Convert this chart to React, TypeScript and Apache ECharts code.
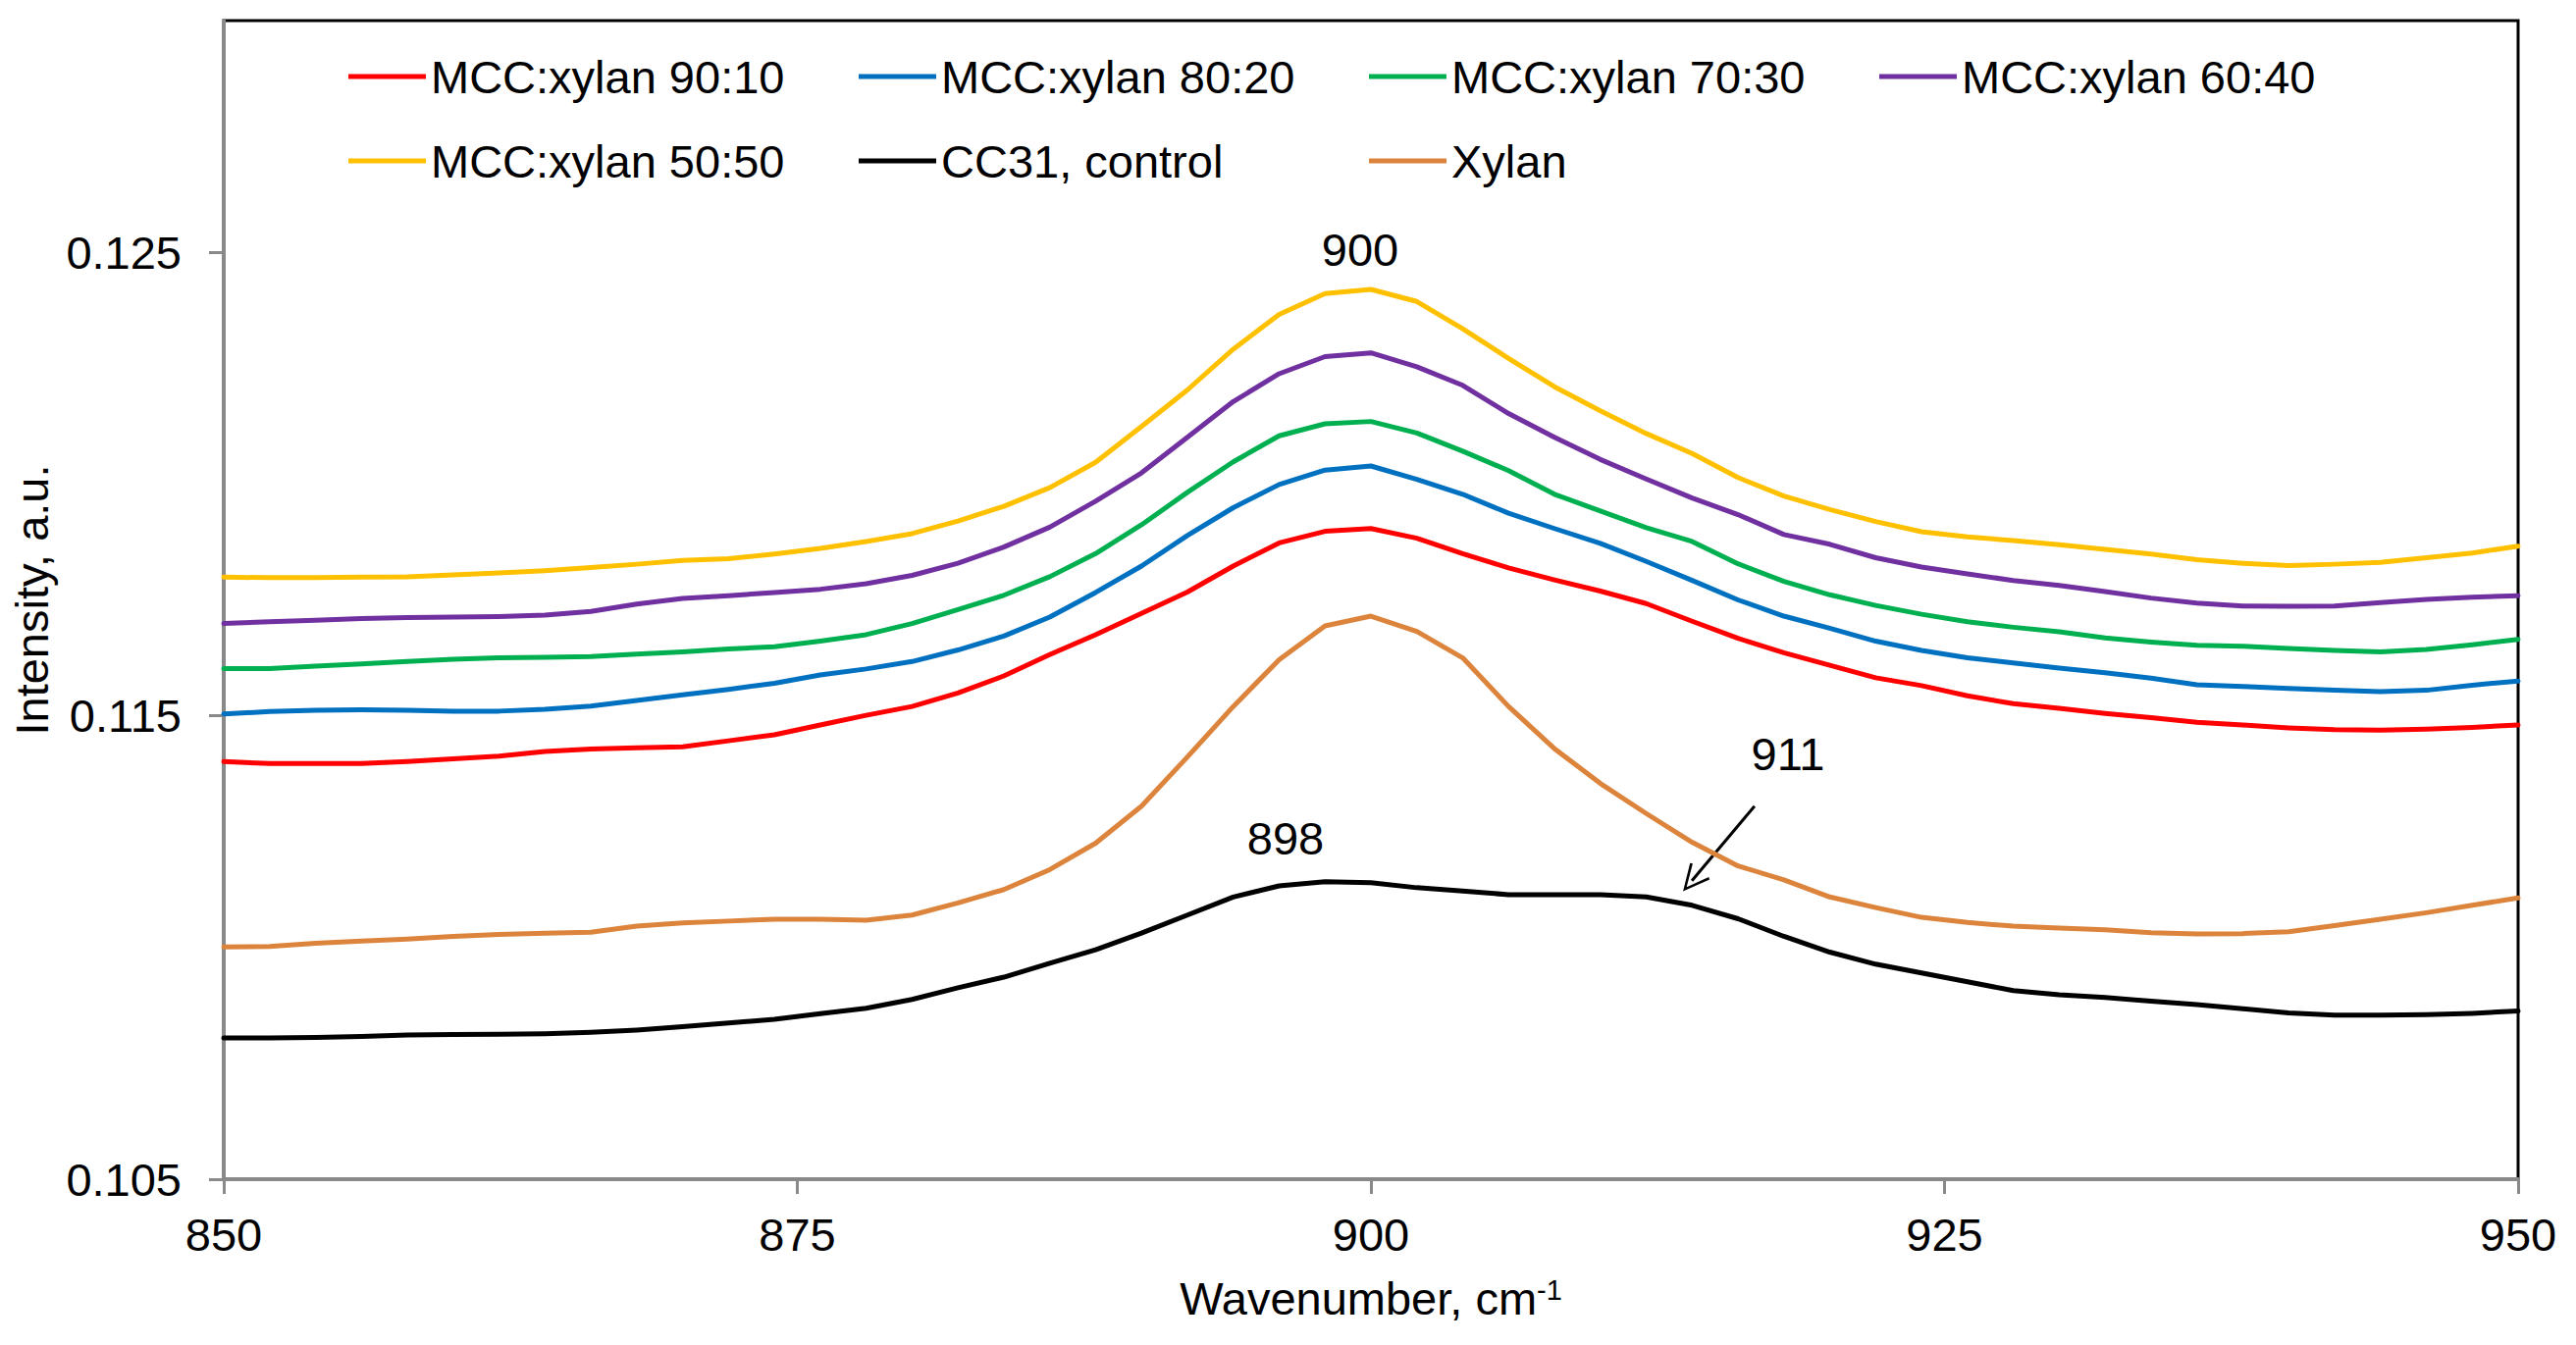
import React, { useEffect, useRef } from "react";
import * as echarts from "echarts";

const wavenumbers = [
  850, 852, 854, 856, 858, 860, 862, 864, 866, 868, 870, 872, 874, 876, 878, 880, 882, 884, 886, 888,
  890, 892, 894, 896, 898, 900, 902, 904, 906, 908, 910, 912, 914, 916, 918, 920, 922, 924, 926, 928,
  930, 932, 934, 936, 938, 940, 942, 944, 946, 948, 950,
];

const mcc9010 = [
  0.11401, 0.11397, 0.11397, 0.11397, 0.11401, 0.11407, 0.11413, 0.11423, 0.11428, 0.11431, 0.11433,
  0.11446, 0.11459, 0.1148, 0.11501, 0.1152, 0.11549, 0.11586, 0.11632, 0.11675, 0.11721, 0.11767,
  0.11823, 0.11873, 0.11898, 0.11904, 0.11883, 0.1185, 0.11819, 0.11793, 0.11769, 0.11742, 0.11704,
  0.11667, 0.11636, 0.11609, 0.11582, 0.11565, 0.11543, 0.11526, 0.11516, 0.11505, 0.11496, 0.11486,
  0.1148, 0.11474, 0.1147, 0.11469, 0.11471, 0.11475, 0.1148,
];

const mcc8020 = [
  0.11504, 0.11509, 0.11512, 0.11513, 0.11512, 0.1151, 0.1151, 0.11514, 0.11521, 0.11533, 0.11545,
  0.11557, 0.1157, 0.11588, 0.11601, 0.11617, 0.11642, 0.11672, 0.11713, 0.11766, 0.11823, 0.11889,
  0.11949, 0.11999, 0.1203, 0.12039, 0.1201, 0.11978, 0.11937, 0.11904, 0.11872, 0.11833, 0.11792,
  0.1175, 0.11715, 0.11689, 0.11661, 0.11641, 0.11625, 0.11614, 0.11603, 0.11593, 0.11581, 0.11567,
  0.11563, 0.11559, 0.11555, 0.11552, 0.11555, 0.11566, 0.11575,
];

const mcc7030 = [
  0.11602, 0.11602, 0.11607, 0.11612, 0.11617, 0.11622, 0.11625, 0.11626, 0.11628, 0.11633, 0.11638,
  0.11644, 0.11649, 0.11661, 0.11675, 0.11699, 0.11729, 0.1176, 0.118, 0.1185, 0.11912, 0.11982,
  0.12048, 0.12104, 0.1213, 0.12135, 0.1211, 0.12071, 0.12029, 0.11978, 0.11942, 0.11906, 0.11876,
  0.11828, 0.1179, 0.11761, 0.11738, 0.11719, 0.11703, 0.11691, 0.11681, 0.11668, 0.11659, 0.11652,
  0.1165, 0.11645, 0.11641, 0.11638, 0.11643, 0.11653, 0.11665,
];

const mcc6040 = [
  0.11699, 0.11703, 0.11706, 0.1171, 0.11712, 0.11713, 0.11714, 0.11717, 0.11725, 0.11741, 0.11753,
  0.11759, 0.11766, 0.11773, 0.11785, 0.11803, 0.11829, 0.11864, 0.11907, 0.11963, 0.12024, 0.12101,
  0.12178, 0.12238, 0.12275, 0.12283, 0.12253, 0.12213, 0.12152, 0.12101, 0.12053, 0.12011, 0.1197,
  0.11934, 0.11891, 0.1187, 0.11841, 0.11821, 0.11806, 0.11792, 0.11781, 0.11768, 0.11754, 0.11743,
  0.11737, 0.11736, 0.11737, 0.11744, 0.11751, 0.11756, 0.11759,
];

const mcc5050 = [
  0.11799, 0.11798, 0.11798, 0.11799, 0.118, 0.11804, 0.11808, 0.11813, 0.1182, 0.11827, 0.11835,
  0.11839, 0.11849, 0.11861, 0.11876, 0.11893, 0.1192, 0.11952, 0.11992, 0.12047, 0.12124, 0.12203,
  0.12291, 0.12366, 0.12411, 0.1242, 0.12394, 0.12335, 0.12271, 0.1221, 0.12158, 0.12109, 0.12066,
  0.12014, 0.11974, 0.11945, 0.11919, 0.11897, 0.11886, 0.11878, 0.11869, 0.11859, 0.11849, 0.11837,
  0.11829, 0.11824, 0.11827, 0.11831, 0.11841, 0.11851, 0.11866,
];

const cc31Control = [
  0.10805, 0.10805, 0.10806, 0.10808, 0.10811, 0.10812, 0.10813, 0.10814, 0.10817, 0.10822, 0.10829,
  0.10837, 0.10845, 0.10857, 0.10869, 0.10888, 0.10913, 0.10936, 0.10966, 0.10995, 0.11031, 0.1107,
  0.11109, 0.11133, 0.11142, 0.1114, 0.11129, 0.11122, 0.11114, 0.11114, 0.11114, 0.11109, 0.11091,
  0.11062, 0.11024, 0.1099, 0.10964, 0.10945, 0.10926, 0.10907, 0.10898, 0.10892, 0.10884, 0.10877,
  0.10868, 0.10859, 0.10854, 0.10854, 0.10855, 0.10858, 0.10863,
];

const xylan = [
  0.11001, 0.11002, 0.11009, 0.11014, 0.11018, 0.11024, 0.11028, 0.11031, 0.11033, 0.11046, 0.11053,
  0.11057, 0.11061, 0.11061, 0.11059, 0.1107, 0.11096, 0.11125, 0.11168, 0.11225, 0.11305, 0.11411,
  0.1152, 0.11621, 0.11694, 0.11715, 0.11682, 0.11625, 0.1152, 0.11429, 0.11354, 0.11289, 0.11227,
  0.11176, 0.11146, 0.11109, 0.11086, 0.11065, 0.11054, 0.11046, 0.11042, 0.11038, 0.11032, 0.11029,
  0.1103, 0.11034, 0.11047, 0.11061, 0.11075, 0.11091, 0.11107,
];

const seriesNames = [
  "MCC:xylan 90:10",
  "MCC:xylan 80:20",
  "MCC:xylan 70:30",
  "MCC:xylan 60:40",
  "MCC:xylan 50:50",
  "CC31, control",
  "Xylan",
];
const seriesValues = [mcc9010, mcc8020, mcc7030, mcc6040, mcc5050, cc31Control, xylan];
const seriesColors = ["#FF0000", "#0070C0", "#00B050", "#7030A0", "#FFC000", "#000000", "#DC843C"];

const yTickValues = [0.105, 0.115, 0.125];
const xTickInterval = 25;

// peak annotations: [wavenumber, intensity, text]
const annotations: [number, number, string][] = [
  [899.53, 0.12506, "900"],
  [896.28, 0.11235, "898"],
  [918.18, 0.11417, "911"],
];
// arrow from (x, y) to (x, y) in data units
const arrowFrom = [916.72, 0.11305];
const arrowTo = [913.99, 0.11144];

const FONT = "'Liberation Sans', Arial, Helvetica, sans-serif";

export default function App() {
  const ref = useRef<HTMLDivElement>(null);

  useEffect(() => {
    document.body.style.margin = "0";
    const chart = echarts.init(ref.current!, null, { renderer: "svg" });

    const lineSeries = seriesNames.map((name, i) => ({
      name,
      type: "line",
      data: wavenumbers.map((x, j) => [x, seriesValues[i][j]]),
      symbol: "none",
      showSymbol: false,
      smooth: false,
      lineStyle: { color: seriesColors[i], width: 5, cap: "round", join: "round" },
      itemStyle: { color: seriesColors[i] },
      z: 2 + i,
      silent: true,
    }));

    const option: any = {
      animation: false,
      backgroundColor: "#ffffff",
      textStyle: { fontFamily: FONT, color: "#000" },
      grid: {
        left: 228,
        right: 59,
        top: 21,
        bottom: 169,
        show: true,
        borderColor: "#000000",
        borderWidth: 3,
        backgroundColor: "transparent",
        containLabel: false,
      },
      legend: {
        data: seriesNames,
        left: 355,
        top: 48,
        width: 2100,
        padding: 0,
        itemWidth: 79,
        itemHeight: 14,
        itemGap: 26,
        icon: "path://M0,0 L79,0 L79,5 L0,5 Z",
        textStyle: {
          fontFamily: FONT,
          fontSize: 47,
          color: "#000",
          width: 410,
          lineHeight: 60,
        },
        selectedMode: false,
      },
      xAxis: {
        type: "value",
        min: 850,
        max: 950,
        interval: xTickInterval,
        name: "Wavenumber, cm{sup|-1}",
        nameLocation: "middle",
        nameGap: 98,
        nameTextStyle: {
          fontFamily: FONT,
          fontSize: 47,
          color: "#000",
          rich: {
            sup: { fontFamily: FONT, fontSize: 29, color: "#000", verticalAlign: "top", padding: [0, 0, 18, 0] },
          },
        },
        axisLine: { show: true, onZero: false, lineStyle: { color: "#898989", width: 4 } },
        axisTick: { show: true, inside: false, length: 15, lineStyle: { color: "#898989", width: 3 } },
        axisLabel: { show: true, margin: 33, fontFamily: FONT, fontSize: 47, color: "#000" },
        splitLine: { show: false },
      },
      yAxis: {
        type: "value",
        min: 0.105,
        max: 0.13,
        name: "Intensity, a.u.",
        nameLocation: "middle",
        nameGap: 168,
        nameTextStyle: { fontFamily: FONT, fontSize: 47, color: "#000" },
        axisLine: { show: true, onZero: false, lineStyle: { color: "#898989", width: 4 } },
        axisTick: {
          show: true,
          inside: false,
          length: 15,
          customValues: yTickValues,
          lineStyle: { color: "#898989", width: 3 },
        },
        axisLabel: {
          show: true,
          margin: 43,
          customValues: yTickValues,
          fontFamily: FONT,
          fontSize: 47,
          color: "#000",
          formatter: (v: number) => v.toFixed(3),
        },
        splitLine: { show: false },
      },
      series: [
        ...lineSeries,
        {
          name: "annotations",
          type: "scatter",
          data: annotations.map((a) => [a[0], a[1], a[2]]),
          symbolSize: 1,
          itemStyle: { color: "rgba(0,0,0,0)", opacity: 1 },
          silent: true,
          z: 20,
          label: {
            show: true,
            position: "inside",
            formatter: (p: any) => p.value[2],
            fontFamily: FONT,
            fontSize: 47,
            color: "#000000",
            opacity: 1,
            textBorderWidth: 0,
          },
        },
        {
          name: "arrow",
          type: "line",
          data: [],
          silent: true,
          markLine: {
            silent: true,
            animation: false,
            symbol: ["none", "path://M0,0 L10,19 L8.2,20 L0,4 L-8.2,20 L-10,19 Z"],
            symbolSize: [26, 28],
            label: { show: false },
            lineStyle: { color: "#000", width: 3, type: "solid" },
            data: [[{ coord: arrowFrom }, { coord: arrowTo }]],
          },
        },
      ],
    };

    chart.setOption(option);
    return () => {
      chart.dispose();
    };
  }, []);

  return (
    <div
      ref={ref}
      style={{ position: "fixed", left: 0, top: 0, width: 2625, height: 1371, background: "#fff" }}
    />
  );
}
